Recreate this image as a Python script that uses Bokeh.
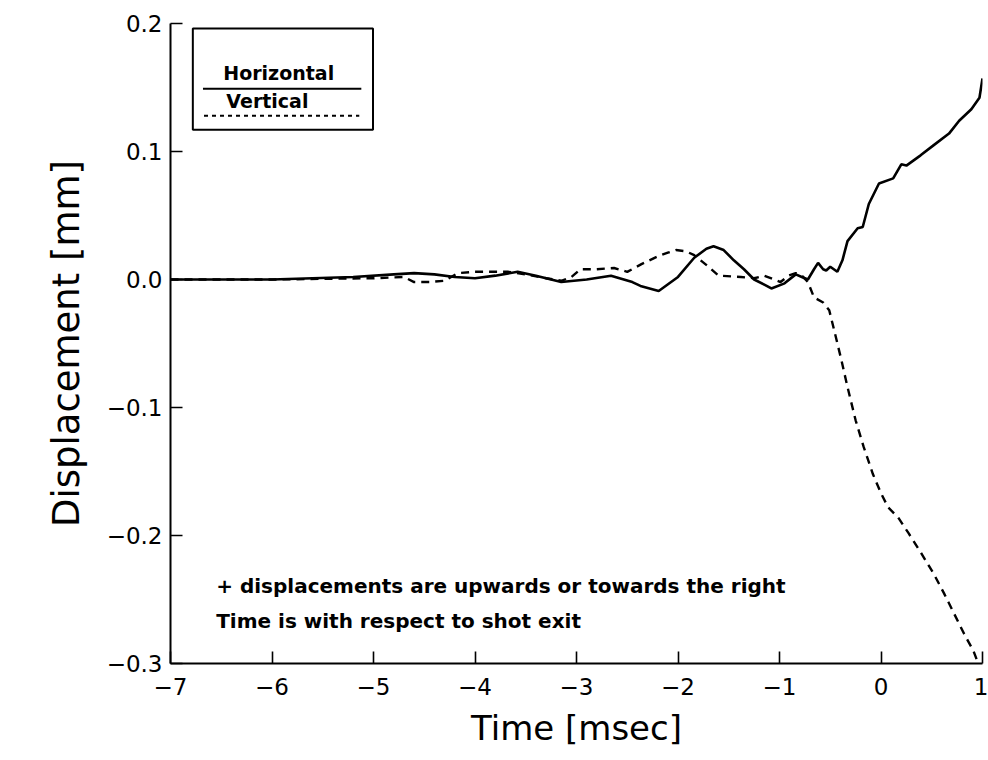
from bokeh.plotting import figure
from bokeh.models import Label, BoxAnnotation, FixedTicker, CustomJSTickFormatter, Range1d
from bokeh.embed import file_html
from bokeh.resources import INLINE

# ---- data ----
horiz_t = [-7.0, -6.5, -6.0, -5.6, -5.2, -4.8, -4.6, -4.4, -4.2, -4.0, -3.8, -3.58, -3.4,
           -3.15, -2.9, -2.66, -2.45, -2.37, -2.19, -2.0, -1.84, -1.72, -1.65, -1.55, -1.45,
           -1.35, -1.25, -1.15, -1.08, -0.95, -0.84, -0.78, -0.72, -0.66, -0.62, -0.57,
           -0.54, -0.5, -0.43, -0.38, -0.33, -0.23, -0.18, -0.12, -0.02, 0.12, 0.2, 0.25,
           0.39, 0.52, 0.67, 0.77, 0.89, 0.97, 1.0]
horiz_v = [0.0, 0.0, 0.0, 0.001, 0.002, 0.004, 0.005, 0.004, 0.002, 0.001, 0.003, 0.006, 0.003,
           -0.002, 0.0, 0.003, -0.002, -0.005, -0.009, 0.002, 0.017, 0.024, 0.026, 0.023, 0.015,
           0.008, 0.0, -0.004, -0.007, -0.003, 0.004, 0.002, 0.0, 0.008, 0.013, 0.008,
           0.007, 0.01, 0.006, 0.015, 0.03, 0.04, 0.041, 0.059, 0.075, 0.079, 0.09, 0.089,
           0.097, 0.105, 0.114, 0.124, 0.133, 0.142, 0.157]

vert_t = [-7.0, -6.0, -5.0, -4.7, -4.6, -4.45, -4.3, -4.17, -4.0, -3.8, -3.67, -3.5, -3.3,
          -3.15, -3.05, -2.96, -2.8, -2.63, -2.5, -2.36, -2.2, -2.1, -2.02, -1.92, -1.84,
          -1.7, -1.6, -1.38, -1.25, -1.15, -0.99, -0.91, -0.84, -0.78, -0.72, -0.66, -0.57,
          -0.51, -0.46, -0.39, -0.33, -0.25, -0.17, -0.08, 0.0, 0.07, 0.17, 0.27, 0.39,
          0.52, 0.62, 0.72, 0.82, 0.91, 1.01]
vert_v = [0.0, 0.0, 0.001, 0.002, -0.002, -0.002, -0.001, 0.005, 0.006, 0.006, 0.006, 0.004, 0.001,
          -0.001, 0.002, 0.008, 0.008, 0.009, 0.006, 0.012, 0.018, 0.021, 0.023, 0.022, 0.019,
          0.01, 0.003, 0.002, 0.001, 0.003, -0.002, 0.003, 0.005, 0.003, -0.002, -0.014, -0.018,
          -0.024, -0.04, -0.063, -0.084, -0.11, -0.131, -0.152, -0.167, -0.178, -0.186, -0.198, -0.213,
          -0.23, -0.245, -0.261, -0.277, -0.29, -0.311]

x_ticks = [-7, -6, -5, -4, -3, -2, -1, 0, 1]
y_ticks = [-0.3, -0.2, -0.1, 0.0, 0.1, 0.2]
y_tick_labels = ["\u22120.3", "\u22120.2", "\u22120.1", "0.0", "0.1", "0.2"]
x_tick_labels = ["\u22127", "\u22126", "\u22125", "\u22124", "\u22123", "\u22122", "\u22121", "0", "1"]

series_names = ["Horizontal", "Vertical"]
notes = ["+ displacements are upwards or towards the right",
         "Time is with respect to shot exit"]

FONT = "DejaVu Sans"

p = figure(frame_width=812, frame_height=640,
           min_border_left=170, min_border_right=6, min_border_top=23, min_border_bottom=97,
           x_range=Range1d(-7, 1), y_range=Range1d(-0.3, 0.2),
           output_backend="svg", toolbar_location=None,
           background_fill_color="white", border_fill_color="white")
p.outline_line_color = None
p.grid.visible = False

p.line(horiz_t, horiz_v, line_color="black", line_width=2.6)
p.line(vert_t, vert_v, line_color="black", line_width=2.4, line_dash="8 6")

# axes
p.xaxis.ticker = FixedTicker(ticks=x_ticks)
p.yaxis.ticker = FixedTicker(ticks=y_ticks)
p.xaxis.formatter = CustomJSTickFormatter(args=dict(t=x_ticks, l=x_tick_labels),
    code="var i=t.indexOf(Math.round(tick)); return i>=0 ? l[i] : '';")
p.yaxis.formatter = CustomJSTickFormatter(args=dict(t=y_ticks, l=y_tick_labels),
    code="for (var i=0;i<t.length;i++){ if (Math.abs(t[i]-tick)<1e-6) return l[i]; } return '';")
for ax in (p.xaxis, p.yaxis):
    ax.axis_line_width = 2
    ax.axis_line_color = "black"
    ax.major_tick_in = 12
    ax.major_tick_out = 0
    ax.major_tick_line_width = 1.6
    ax.major_tick_line_color = "black"
    ax.minor_tick_line_color = None
    ax.major_label_text_font = FONT
    ax.major_label_text_font_size = "23px"
    ax.major_label_text_color = "black"
    ax.axis_label_text_font = FONT
    ax.axis_label_text_font_style = "normal"
    ax.axis_label_text_color = "black"

p.xaxis.axis_label = "Time [msec]"
p.yaxis.axis_label = "Displacement [mm]"
p.xaxis.axis_label_text_font_size = "34px"
p.yaxis.axis_label_text_font_size = "37px"
p.xaxis.major_label_standoff = 14
p.yaxis.major_label_standoff = 8
p.xaxis.axis_label_standoff = 10
p.yaxis.axis_label_standoff = 16

# legend box (annotation geometry)
p.add_layout(BoxAnnotation(left=-6.78, right=-5.005, bottom=0.117, top=0.196,
                           fill_alpha=0, line_color="black", line_alpha=1, line_width=2))
p.line([-6.68, -5.12], [0.149, 0.149], line_color="black", line_width=2)
p.line([-6.67, -5.14], [0.128, 0.128], line_color="black", line_width=2, line_dash="4 4")
p.add_layout(Label(x=-6.48, y=0.153, text=series_names[0], text_font=FONT,
                   text_font_size="19px", text_font_style="bold", text_color="black"))
p.add_layout(Label(x=-6.45, y=0.131, text=series_names[1], text_font=FONT,
                   text_font_size="19px", text_font_style="bold", text_color="black"))

# notes
p.add_layout(Label(x=-6.55, y=-0.249, text=notes[0], text_font=FONT,
                   text_font_size="20px", text_font_style="bold", text_color="black"))
p.add_layout(Label(x=-6.55, y=-0.276, text=notes[1], text_font=FONT,
                   text_font_size="20px", text_font_style="bold", text_color="black"))

open("out.html", "w").write(file_html(p, INLINE))
